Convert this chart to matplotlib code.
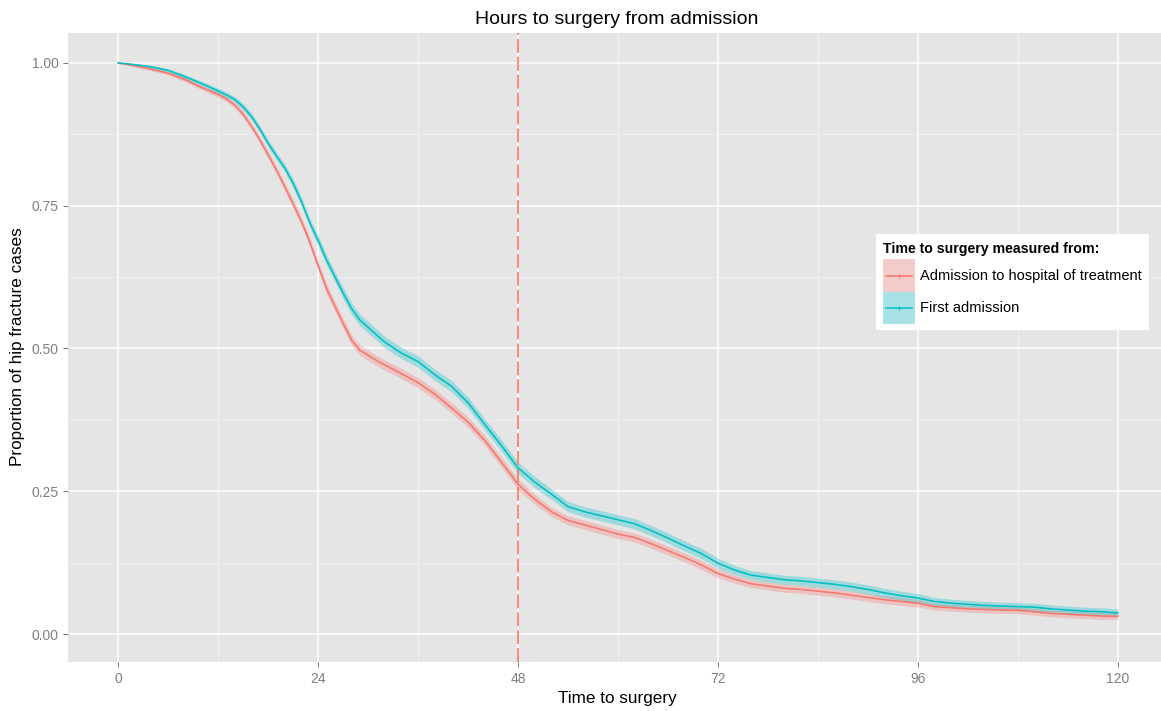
import matplotlib
matplotlib.use("Agg")
import matplotlib.pyplot as plt
from matplotlib.patches import Rectangle
from matplotlib.lines import Line2D

# Kaplan-Meier style estimates: proportion of hip fracture cases still awaiting surgery
# (hourly resolution through the steep early section, two-hourly elsewhere)
hours = list(range(0, 12, 2)) + list(range(12, 32)) + list(range(32, 121, 2))

first_admission = [
    1.000, 0.997, 0.993, 0.987, 0.976, 0.964,
    0.951, 0.944, 0.936, 0.923, 0.906, 0.884, 0.859, 0.837, 0.816, 0.789,
    0.757, 0.720, 0.689, 0.655, 0.626, 0.597, 0.570, 0.550, 0.537, 0.524,
    0.511, 0.492, 0.477, 0.454, 0.434, 0.405, 0.367, 0.330, 0.291, 0.266,
    0.245, 0.223, 0.214, 0.207, 0.200, 0.193, 0.181, 0.168, 0.154, 0.141,
    0.124, 0.112, 0.103, 0.099, 0.095, 0.093, 0.090, 0.087, 0.083, 0.078,
    0.072, 0.067, 0.063, 0.057, 0.054, 0.052, 0.050, 0.049, 0.048, 0.047,
    0.044, 0.042, 0.040, 0.039, 0.037,
]

hospital_of_treatment = [
    1.000, 0.995, 0.989, 0.982, 0.971, 0.957,
    0.945, 0.937, 0.926, 0.910, 0.889, 0.865, 0.839, 0.812, 0.783, 0.753,
    0.722, 0.686, 0.645, 0.605, 0.574, 0.544, 0.515, 0.497, 0.488, 0.479,
    0.471, 0.456, 0.440, 0.420, 0.396, 0.371, 0.339, 0.301, 0.262, 0.236,
    0.214, 0.199, 0.191, 0.183, 0.175, 0.169, 0.158, 0.146, 0.134, 0.121,
    0.106, 0.096, 0.088, 0.084, 0.080, 0.078, 0.075, 0.072, 0.068, 0.064,
    0.060, 0.057, 0.054, 0.048, 0.046, 0.044, 0.043, 0.042, 0.0415, 0.039,
    0.036, 0.0345, 0.033, 0.0315, 0.031,
]

# Half-width of the 95% confidence band around each curve
first_admission_ci = [
    0.000, 0.002, 0.003, 0.003, 0.004, 0.004,
    0.005, 0.005, 0.005, 0.006, 0.006, 0.006, 0.007, 0.007, 0.007, 0.008,
    0.008, 0.008, 0.009, 0.009, 0.009, 0.010, 0.010, 0.010, 0.010, 0.010,
    0.010, 0.010, 0.010, 0.010, 0.010, 0.010, 0.010, 0.010, 0.010, 0.010,
    0.009, 0.009, 0.009, 0.009, 0.009, 0.009, 0.009, 0.009, 0.009, 0.009,
    0.009, 0.008, 0.008, 0.008, 0.008, 0.008, 0.008, 0.008, 0.008, 0.008,
    0.008, 0.008, 0.008, 0.007, 0.007, 0.007, 0.007, 0.007, 0.007, 0.007,
    0.007, 0.007, 0.007, 0.007, 0.007,
]

hospital_of_treatment_ci = [
    0.000, 0.002, 0.003, 0.003, 0.004, 0.004,
    0.005, 0.005, 0.005, 0.006, 0.006, 0.006, 0.007, 0.007, 0.007, 0.008,
    0.008, 0.008, 0.008, 0.009, 0.009, 0.009, 0.009, 0.009, 0.009, 0.009,
    0.009, 0.009, 0.009, 0.009, 0.009, 0.009, 0.009, 0.009, 0.009, 0.009,
    0.008, 0.008, 0.008, 0.008, 0.008, 0.008, 0.008, 0.008, 0.008, 0.008,
    0.008, 0.007, 0.007, 0.007, 0.007, 0.007, 0.007, 0.007, 0.007, 0.007,
    0.007, 0.007, 0.007, 0.006, 0.006, 0.006, 0.006, 0.006, 0.006, 0.006,
    0.006, 0.006, 0.006, 0.006, 0.006,
]

series_labels = ["Admission to hospital of treatment", "First admission"]
series_colors = ["#F8766D", "#00BFC4"]
cutoff_hours = 48

x_ticks = [0, 24, 48, 72, 96, 120]
x_minor = [12, 36, 60, 84, 108]
y_ticks = [0.00, 0.25, 0.50, 0.75, 1.00]
y_minor = [0.125, 0.375, 0.625, 0.875]
y_tick_labels = ["0.00", "0.25", "0.50", "0.75", "1.00"]

plt.rcParams["font.family"] = ["Liberation Sans", "DejaVu Sans"]
plt.rcParams["lines.scale_dashes"] = False

W, H = 1161, 711
fig = plt.figure(figsize=(W / 100, H / 100), dpi=100)
fig.patch.set_facecolor("white")


def fx(px):
    return px / W


def fy(py):
    return 1 - py / H


# panel placement
left_px, right_px, top_px, bottom_px = 68.3, 1167.7, 32.7, 661.7
ax = fig.add_axes([fx(left_px), fy(bottom_px),
                   fx(right_px - left_px), (bottom_px - top_px) / H])
ax.set_facecolor("#E5E5E5")
ax.set_xlim(-6, 126)
ax.set_ylim(-0.0485, 1.053)

for s in ax.spines.values():
    s.set_visible(False)

ax.set_xticks(x_ticks)
ax.set_xticks(x_minor, minor=True)
ax.set_yticks(y_ticks)
ax.set_yticks(y_minor, minor=True)
ax.set_yticklabels(y_tick_labels)
ax.tick_params(which="major", direction="out", length=3.6, width=0.8,
               color="#7F7F7F", labelcolor="#7F7F7F", labelsize=10, pad=3.5)
ax.tick_params(which="minor", length=0)
ax.grid(which="major", color="white", linewidth=1.1)
ax.grid(which="minor", color="#F2F2F2", linewidth=0.6)
ax.set_axisbelow(True)

# confidence bands and survival curves
series = [
    (hospital_of_treatment, hospital_of_treatment_ci),
    (first_admission, first_admission_ci),
]
for (est, ci), color in zip(series, series_colors):
    lower = [e - c for e, c in zip(est, ci)]
    upper = [e + c for e, c in zip(est, ci)]
    ax.fill_between(hours, lower, upper, color=color, alpha=0.3,
                    linewidth=0, zorder=2)
for (est, ci), color in zip(series, series_colors):
    ax.plot(hours, est, color=color, linewidth=1.15, zorder=3)

ax.axvline(cutoff_hours, color="#FA6A55", linewidth=1.1,
           dashes=(10.0, 2.9), zorder=4)

# titles
fig.text(fx(617), fy(20), "Hours to surgery from admission",
         ha="center", va="center", fontsize=14, color="black")
fig.text(fx(617), fy(699), "Time to surgery",
         ha="center", va="center", fontsize=12.3, color="black")
fig.text(fx(18), fy(347), "Proportion of hip fracture cases",
         ha="center", va="center", rotation=90, fontsize=12.3, color="black")

# legend
fig.add_artist(Rectangle((fx(876), fy(330)), fx(1149 - 876), (330 - 234) / H,
                         transform=fig.transFigure, facecolor="white",
                         edgecolor="none", zorder=5))
fig.text(fx(883), fy(248.5), "Time to surgery measured from:",
         ha="left", va="center", fontsize=10.2, fontweight="bold",
         color="black", zorder=6)
key_tops = [259.5, 291.7]
for top, label, color in zip(key_tops, series_labels, series_colors):
    key_h = 32.2
    fig.add_artist(Rectangle((fx(883), fy(top + key_h)), fx(32), key_h / H,
                             transform=fig.transFigure, facecolor="#F2F2F2",
                             edgecolor="none", zorder=6))
    fig.add_artist(Rectangle((fx(883), fy(top + key_h)), fx(32), key_h / H,
                             transform=fig.transFigure, facecolor=color,
                             alpha=0.3, edgecolor="none", zorder=7))
    yc = top + key_h / 2
    fig.add_artist(Line2D([fx(886), fx(912)], [fy(yc), fy(yc)],
                          transform=fig.transFigure, color=color,
                          linewidth=1.1, zorder=8))
    fig.add_artist(Line2D([fx(899)], [fy(yc)], transform=fig.transFigure,
                          color=color, marker="|", markersize=3.5,
                          markeredgewidth=0.8, linestyle="none", zorder=8))
    fig.text(fx(920), fy(yc), label, ha="left", va="center",
             fontsize=10.5, color="black", zorder=8)

fig.savefig("out.png", dpi=100, facecolor="white")
